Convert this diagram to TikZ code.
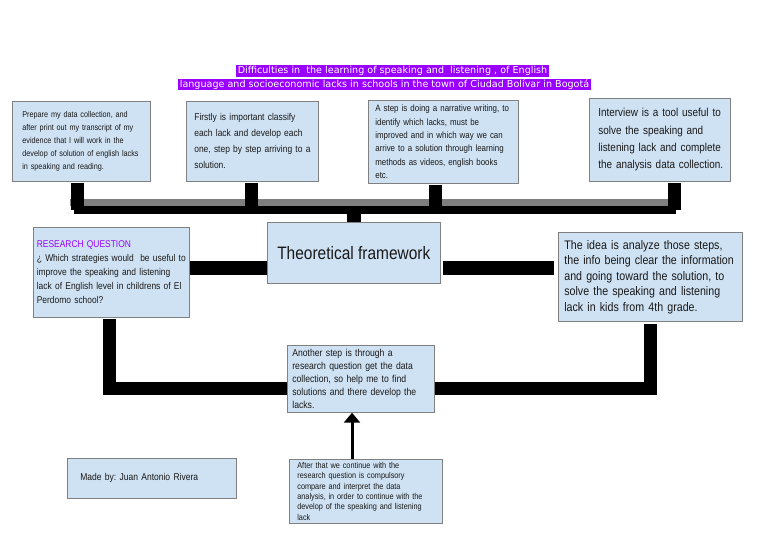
\documentclass[tikz,border=0pt]{standalone}
\usepackage{fontspec}
\setmainfont{Liberation Sans}[FakeStretch=0.86]
\newfontfamily\titlefont{DejaVu Sans}
\usetikzlibrary{arrows.meta,calc,shadows}
\definecolor{boxblue}{HTML}{CFE2F3}
\definecolor{violetbg}{HTML}{9900FF}
\definecolor{bordergrey}{HTML}{808080}
\definecolor{bargrey}{HTML}{7F7F7F}
\newcommand\JL[2]{\makebox[#1][s]{#2}}
\begin{document}
\frenchspacing
\begin{tikzpicture}[x=1pt,y=-1pt,
  card/.style={draw=bordergrey, fill=boxblue, line width=0.7pt, anchor=north west,
    align=left, inner ysep=0pt, text=black!90,
    drop shadow={shadow xshift=0.5pt, shadow yshift=-1pt, fill=black!75, opacity=1}},
  titlebar/.style={fill=violetbg, text=white, font=\titlefont\fontsize{9.6}{10}\selectfont,
    inner xsep=1.5pt, inner ysep=0.6pt, text height=7.8pt, text depth=2.4pt},
  stub/.style={line width=13pt, draw=black},
  thickbar/.style={line width=14pt, draw=black},
  greybar/.style={line width=7pt, draw=bargrey},
  blackbar/.style={line width=8pt, draw=black}]
\useasboundingbox (0,0) rectangle (768,544);
\fill[white] (0,0) rectangle (768,544);

% title
\node[titlebar] (t1) at (392.5,71) {Difficulties in\ \ the learning of speaking and\ \ listening , of English};
\node[titlebar] (t2) at (384.5,84.5) {language and socioeconomic lacks in schools in the town of Ciudad Bolívar in Bogotá};

% top boxes
\node[card, text width=118pt, inner xsep=10pt, minimum height=80pt,
  font=\fontsize{8.45}{12.9}\selectfont] (b1) at (12,101)
  {\mbox{Prepare my data collection, and}\\\mbox{after print out my transcript of my}\\\mbox{evidence that I will work in the}\\\mbox{develop of solution of english lacks}\\\mbox{in speaking and reading.}};
\node[card, text width=116pt, inner xsep=8pt, minimum height=80pt,
  font=\fontsize{9.8}{16}\selectfont] (b2) at (186,101)
  {\mbox{Firstly is important classify}\\\mbox{each lack and develop each}\\\mbox{one, step by step arriving to a}\\\mbox{solution.}};
\node[card, text width=136pt, inner xsep=7pt, minimum height=83pt,
  font=\fontsize{9.2}{13.4}\selectfont] (b3) at (368,100)
  {\mbox{A step is doing a narrative writing, to}\\\mbox{identify which lacks, must be}\\\mbox{improved and in which way we can}\\\mbox{arrive to a solution through learning}\\\mbox{methods as videos, english books}\\\mbox{etc.}};
\node[card, text width=123pt, inner xsep=9pt, minimum height=83pt,
  font=\fontsize{11.55}{17.3}\selectfont] (b4) at (589,98)
  {\JL{123pt}{Interview is a tool useful to}\\\JL{123pt}{solve the speaking and}\\\JL{123pt}{listening lack and complete}\\\mbox{the analysis data collection.}};

% middle row
\node[card, text width=149pt, inner xsep=3.5pt, minimum height=90pt,
  font=\fontsize{9.8}{14}\selectfont] (rq) at (33,227)
  {\textcolor{violetbg}{RESEARCH QUESTION}\\\JL{149pt}{¿ Which strategies would\ \ be useful to}\\\JL{149pt}{improve the speaking and listening}\\\JL{149pt}{lack of English level in childrens of El}\\\mbox{Perdomo school?}};
\node[card, minimum width=173pt, minimum height=61pt, inner xsep=0pt,
  font=\fontsize{18}{20}\selectfont] (theo) at (267,222) {Theoretical framework};
\node[card, text width=172pt, inner xsep=6pt, minimum height=89pt,
  font=\fontsize{12.4}{15.5}\selectfont] (right) at (558,232)
  {\JL{172pt}{The idea is analyze those steps,}\\\JL{172pt}{the info being clear the information}\\\JL{172pt}{and going toward the solution, to}\\\JL{172pt}{solve the speaking and listening}\\\mbox{lack in kids from 4th grade.}};

% lower row
\node[card, text width=137pt, inner xsep=5pt, minimum height=67pt,
  font=\fontsize{10.05}{13}\selectfont] (another) at (287,345)
  {\mbox{Another step is through a}\\\mbox{research question get the data}\\\mbox{collection, so help me to find}\\\mbox{solutions and there develop the}\\\mbox{lacks.}};
\node[card, text width=137pt, inner xsep=8pt, minimum height=64pt,
  font=\fontsize{8.5}{10.4}\selectfont] (bottom) at (289,459)
  {\mbox{After that we continue with the}\\\mbox{research question is compulsory}\\\mbox{compare and interpret the data}\\\mbox{analysis, in order to continue with the}\\\mbox{develop of the speaking and listening}\\\mbox{lack}};
\node[card, text width=143pt, inner xsep=13pt, minimum height=40pt,
  font=\fontsize{9.9}{13}\selectfont] (made) at (67,458) {\mbox{Made by: Juan Antonio Rivera}};

% connectors
\coordinate (gl) at (70,202.5);
\coordinate (gr) at (681,202.5);
\coordinate (bl) at (74,209.5);
\coordinate (br) at (676,209.5);
\coordinate (ym) at (0,268);
\coordinate (yl) at (0,388.5);
\coordinate (ax) at (352,0);

\draw[greybar] (gl) -- (gr);
\draw[stub] ($(b1.south)+(-4,1)$) -- ($(b1.south |- bl)+(-4,0)$);
\draw[stub] ($(b2.south)+(-1,1)$) -- ($(b2.south |- bl)+(-1,0)$);
\draw[stub] ($(b3.south)+(-8,1)$) -- ($(b3.south |- bl)+(-8,0)$);
\draw[stub] ($(b4.south)+(15,1)$) -- ($(b4.south |- bl)+(15,0)$);
\draw[blackbar] (bl) -- (br);
\draw[stub, line width=14pt] (theo.north) -- (theo.north |- bl);

\draw[thickbar] (rq.east |- ym) -- (theo.west |- ym);
\draw[thickbar] ($(theo.east |- ym)+(2,0)$) -- ($(right.west |- ym)+(-4,0)$);

\draw[stub] ($(rq.south)+(-1.5,1)$) |- (another.west |- yl);
\draw[stub] ($(right.south)+(0,2)$) |- (another.east |- yl);

\draw[line width=3pt, -{Triangle[width=16pt,length=10pt]}] (bottom.north -| ax) -- (another.south -| ax);
\end{tikzpicture}
\end{document}
